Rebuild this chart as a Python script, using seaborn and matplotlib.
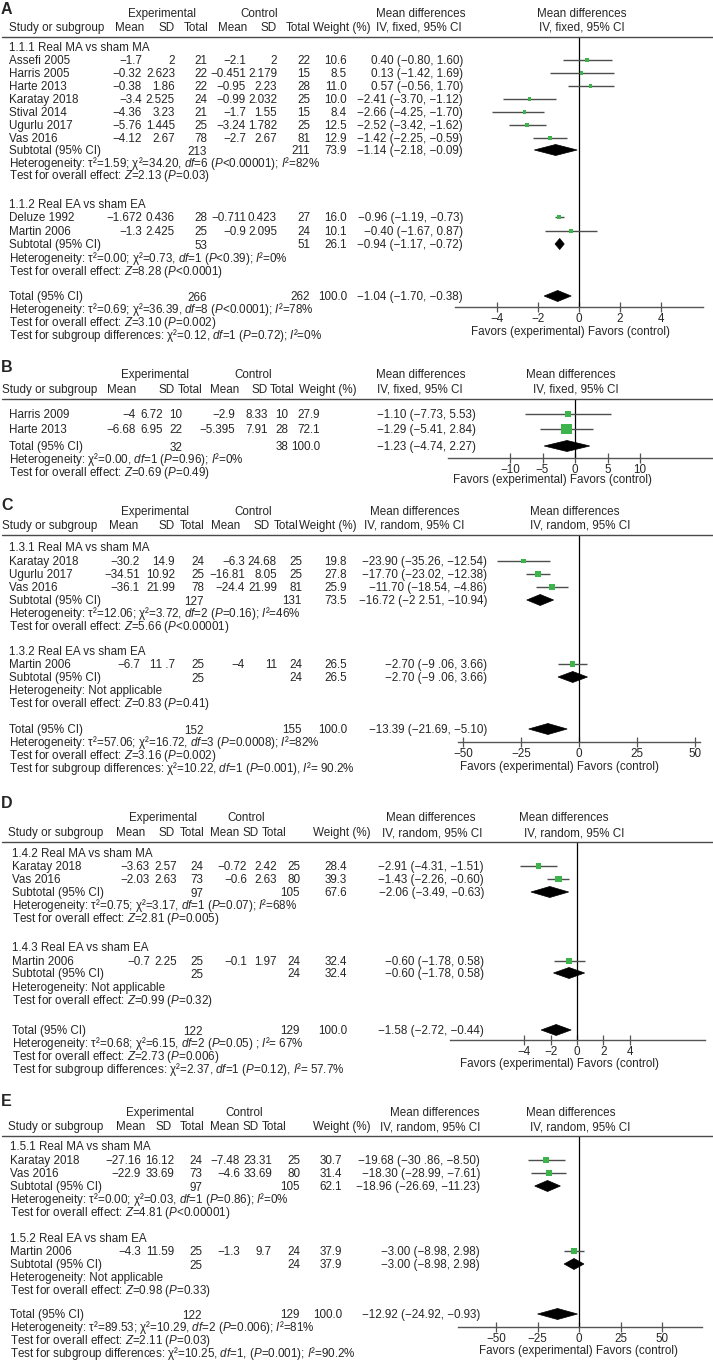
import matplotlib
matplotlib.use("Agg")
import matplotlib.pyplot as plt
import seaborn as sns
import pandas as pd
from matplotlib.patches import Polygon
from matplotlib.lines import Line2D

# ======================= DATA =======================
# ---------- Panel A ----------
A_study = ["Assefi 2005", "Harris 2005", "Harte 2013", "Karatay 2018", "Stival 2014",
           "Ugurlu 2017", "Vas 2016", "Deluze 1992", "Martin 2006"]
A_group = [0, 0, 0, 0, 0, 0, 0, 1, 1]
A_e_mean = [-1.7, -0.32, -0.38, -3.4, -4.36, -5.76, -4.12, -1.672, -1.3]
A_e_sd = [2, 2.623, 1.86, 2.525, 3.23, 1.445, 2.67, 0.436, 2.425]
A_e_n = [21, 22, 22, 24, 21, 25, 78, 28, 25]
A_c_mean = [-2.1, -0.451, -0.95, -0.99, -1.7, -3.24, -2.7, -0.711, -0.9]
A_c_sd = [2, 2.179, 2.23, 2.032, 1.55, 1.782, 2.67, 0.423, 2.095]
A_c_n = [22, 15, 28, 25, 15, 25, 81, 27, 24]
A_weight = [10.6, 8.5, 11.0, 10.0, 8.4, 12.5, 12.9, 16.0, 10.1]
A_md = [0.40, 0.13, 0.57, -2.41, -2.66, -2.52, -1.42, -0.96, -0.40]
A_lo = [-0.80, -1.42, -0.56, -3.70, -4.25, -3.42, -2.25, -1.19, -1.67]
A_hi = [1.60, 1.69, 1.70, -1.12, -1.70, -1.62, -0.59, -0.73, 0.87]
A_sub_name = ["1.1.1 Real MA vs sham MA", "1.1.2 Real EA vs sham EA"]
A_sub_e_n = [213, 53]
A_sub_c_n = [211, 51]
A_sub_w = [73.9, 26.1]
A_sub_md = [-1.14, -0.94]
A_sub_lo = [-2.18, -1.17]
A_sub_hi = [-0.09, -0.72]
A_sub_het = [r"Heterogeneity: τ²=1.59; χ²=34.20, $\mathit{df}$=6 ($\mathit{P}$<0.00001); $\mathit{I}$²=82%",
             r"Heterogeneity: τ²=0.00; χ²=0.73, $\mathit{df}$=1 ($\mathit{P}$<0.39); $\mathit{I}$²=0%"]
A_sub_test = [r"Test for overall effect: $\mathit{Z}$=2.13 ($\mathit{P}$=0.03)",
              r"Test for overall effect: $\mathit{Z}$=8.28 ($\mathit{P}$<0.0001)"]
A_tot_n = [266, 262]
A_tot_w = 100.0
A_tot_ci = [-1.04, -1.70, -0.38]
A_tot_text = [r"Heterogeneity: τ²=0.69; χ²=36.39, $\mathit{df}$=8 ($\mathit{P}$<0.0001); $\mathit{I}$²=78%",
              r"Test for overall effect: $\mathit{Z}$=3.10 ($\mathit{P}$=0.002)",
              r"Test for subgroup differences: χ²=0.12, $\mathit{df}$=1 ($\mathit{P}$=0.72); $\mathit{I}$²=0%"]
A_ticks = [-4, -2, 0, 2, 4]

# ---------- Panel B ----------
B_study = ["Harris 2009", "Harte 2013"]
B_group = [None, None]
B_e_mean = [-4, -6.68]
B_e_sd = [6.72, 6.95]
B_e_n = [10, 22]
B_c_mean = [-2.9, -5.395]
B_c_sd = [8.33, 7.91]
B_c_n = [10, 28]
B_weight = [27.9, 72.1]
B_md = [-1.10, -1.29]
B_lo = [-7.73, -5.41]
B_hi = [5.53, 2.84]
B_tot_n = [32, 38]
B_tot_w = 100.0
B_tot_ci = [-1.23, -4.74, 2.27]
B_tot_text = [r"Heterogeneity: χ²=0.00, $\mathit{df}$=1 ($\mathit{P}$=0.96); $\mathit{I}$²=0%",
              r"Test for overall effect: $\mathit{Z}$=0.69 ($\mathit{P}$=0.49)"]
B_ticks = [-10, -5, 0, 5, 10]

# ---------- Panel C ----------
C_study = ["Karatay 2018", "Ugurlu 2017", "Vas 2016", "Martin 2006"]
C_group = [0, 0, 0, 1]
C_e_mean = [-30.2, -34.51, -36.1, -6.7]
C_e_sd = [14.9, 10.92, 21.99, 11.7]
C_e_n = [24, 25, 78, 25]
C_c_mean = [-6.3, -16.81, -24.4, -4]
C_c_sd = [24.68, 8.05, 21.99, 11]
C_c_n = [25, 25, 81, 24]
C_weight = [19.8, 27.8, 25.9, 26.5]
C_md = [-23.90, -17.70, -11.70, -2.70]
C_lo = [-35.26, -23.02, -18.54, -9.06]
C_hi = [-12.54, -12.38, -4.86, 3.66]
C_sub_name = ["1.3.1 Real MA vs sham MA", "1.3.2 Real EA vs sham EA"]
C_sub_e_n = [127, 25]
C_sub_c_n = [131, 24]
C_sub_w = [73.5, 26.5]
C_sub_md = [-16.72, -2.70]
C_sub_lo = [-22.51, -9.06]
C_sub_hi = [-10.94, 3.66]
C_sub_het = [r"Heterogeneity: τ²=12.06; χ²=3.72, $\mathit{df}$=2 ($\mathit{P}$=0.16); $\mathit{I}$²=46%",
             "Heterogeneity: Not applicable"]
C_sub_test = [r"Test for overall effect: $\mathit{Z}$=5.66 ($\mathit{P}$<0.00001)",
              r"Test for overall effect: $\mathit{Z}$=0.83 ($\mathit{P}$=0.41)"]
C_tot_n = [152, 155]
C_tot_w = 100.0
C_tot_ci = [-13.39, -21.69, -5.10]
C_tot_text = [r"Heterogeneity: τ²=57.06; χ²=16.72, $\mathit{df}$=3 ($\mathit{P}$=0.0008); $\mathit{I}$²=82%",
              r"Test for overall effect: $\mathit{Z}$=3.16 ($\mathit{P}$=0.002)",
              r"Test for subgroup differences: χ²=10.22, $\mathit{df}$=1 ($\mathit{P}$=0.001), $\mathit{I}$²= 90.2%"]
C_ticks = [-50, -25, 0, 25, 50]

# ---------- Panel D ----------
D_study = ["Karatay 2018", "Vas 2016", "Martin 2006"]
D_group = [0, 0, 1]
D_e_mean = [-3.63, -2.03, -0.7]
D_e_sd = [2.57, 2.63, 2.25]
D_e_n = [24, 73, 25]
D_c_mean = [-0.72, -0.6, -0.1]
D_c_sd = [2.42, 2.63, 1.97]
D_c_n = [25, 80, 24]
D_weight = [28.4, 39.3, 32.4]
D_md = [-2.91, -1.43, -0.60]
D_lo = [-4.31, -2.26, -1.78]
D_hi = [-1.51, -0.60, 0.58]
D_sub_name = ["1.4.2 Real MA vs sham MA", "1.4.3 Real EA vs sham EA"]
D_sub_e_n = [97, 25]
D_sub_c_n = [105, 24]
D_sub_w = [67.6, 32.4]
D_sub_md = [-2.06, -0.60]
D_sub_lo = [-3.49, -1.78]
D_sub_hi = [-0.63, 0.58]
D_sub_het = [r"Heterogeneity: τ²=0.75; χ²=3.17, $\mathit{df}$=1 ($\mathit{P}$=0.07); $\mathit{I}$²=68%",
             "Heterogeneity: Not applicable"]
D_sub_test = [r"Test for overall effect: $\mathit{Z}$=2.81 ($\mathit{P}$=0.005)",
              r"Test for overall effect: $\mathit{Z}$=0.99 ($\mathit{P}$=0.32)"]
D_tot_n = [122, 129]
D_tot_w = 100.0
D_tot_ci = [-1.58, -2.72, -0.44]
D_tot_text = [r"Heterogeneity: τ²=0.68; χ²=6.15, $\mathit{df}$=2 ($\mathit{P}$=0.05) ; $\mathit{I}$²= 67%",
              r"Test for overall effect: $\mathit{Z}$=2.73 ($\mathit{P}$=0.006)",
              r"Test for subgroup differences: χ²=2.37, $\mathit{df}$=1 ($\mathit{P}$=0.12), $\mathit{I}$²= 57.7%"]
D_ticks = [-4, -2, 0, 2, 4]

# ---------- Panel E ----------
E_study = ["Karatay 2018", "Vas 2016", "Martin 2006"]
E_group = [0, 0, 1]
E_e_mean = [-27.16, -22.9, -4.3]
E_e_sd = [16.12, 33.69, 11.59]
E_e_n = [24, 73, 25]
E_c_mean = [-7.48, -4.6, -1.3]
E_c_sd = [23.31, 33.69, 9.7]
E_c_n = [25, 80, 24]
E_weight = [30.7, 31.4, 37.9]
E_md = [-19.68, -18.30, -3.00]
E_lo = [-30.86, -28.99, -8.98]
E_hi = [-8.50, -7.61, 2.98]
E_sub_name = ["1.5.1 Real MA vs sham MA", "1.5.2 Real EA vs sham EA"]
E_sub_e_n = [97, 25]
E_sub_c_n = [105, 24]
E_sub_w = [62.1, 37.9]
E_sub_md = [-18.96, -3.00]
E_sub_lo = [-26.69, -8.98]
E_sub_hi = [-11.23, 2.98]
E_sub_het = [r"Heterogeneity: τ²=0.00; χ²=0.03, $\mathit{df}$=1 ($\mathit{P}$=0.86); $\mathit{I}$²=0%",
             "Heterogeneity: Not applicable"]
E_sub_test = [r"Test for overall effect: $\mathit{Z}$=4.81 ($\mathit{P}$<0.00001)",
              r"Test for overall effect: $\mathit{Z}$=0.98 ($\mathit{P}$=0.33)"]
E_tot_n = [122, 129]
E_tot_w = 100.0
E_tot_ci = [-12.92, -24.92, -0.93]
E_tot_text = [r"Heterogeneity: τ²=89.53; χ²=10.29, $\mathit{df}$=2 ($\mathit{P}$=0.006); $\mathit{I}$²=81%",
              r"Test for overall effect: $\mathit{Z}$=2.11 ($\mathit{P}$=0.03)",
              r"Test for subgroup differences: χ²=10.25, $\mathit{df}$=1, ($\mathit{P}$=0.001); $\mathit{I}$²=90.2%"]
E_ticks = [-50, -25, 0, 25, 50]

# typographic quirks of the original labels
CI_TYPO = {"\u221222.51": "\u22122 2.51", "\u22129.06": "\u22129 .06", "\u221230.86": "\u221230 .86"}
CELL_TYPO = {"11.7": "11 .7"}

# ======================= STYLE =======================
sns.set_style("white")
plt.rcParams["font.family"] = ["Liberation Sans", "DejaVu Sans"]
plt.rcParams["mathtext.fontset"] = "custom"
plt.rcParams["mathtext.rm"] = "Liberation Sans"
plt.rcParams["mathtext.it"] = "Liberation Sans:italic"
plt.rcParams["mathtext.bf"] = "Liberation Sans:bold"
plt.rcParams["axes.unicode_minus"] = True

W, H = 713, 1361
FS = 8.4
GREEN = "#3cb44b"
CI_COL = "#4d4d4d"
fig = plt.figure(figsize=(W / 100, H / 100), dpi=100)


def T(x, y, s, ha="left", size=FS, off=4.0, **kw):
    fig.text(x / W, 1 - (y + off) / H, s, ha=ha, va="baseline", fontsize=size, **kw)


def mm(s):
    return s.replace("-", "\u2212")


def fmt(v):
    s = mm(f"{v:g}")
    return CELL_TYPO.get(s, s)


def ci_label(m, lo, hi):
    s = mm(f"{m:.2f} ({lo:.2f}, {hi:.2f})")
    for k, v in CI_TYPO.items():
        s = s.replace(k, v)
    return s


def draw_panel(letter, L, D):
    T(1, L["label_y"], letter, size=11.5, weight="bold", off=5.5)
    for s, x, ha in L["h1"]:
        T(x, L["h1_y"], s, ha=ha)
    for s, x, ha in L["h2"]:
        T(x, L["h2_y"], s, ha=ha)
    fig.add_artist(Line2D([2 / W, 1.0], [1 - L["line_y"] / H] * 2, color="#4a4a4a", lw=1.0))

    ys = iter(L["ys"])
    cols = L["cols"]
    nx = L["name_x"]
    pts = []
    dias = []

    def ci_text(y, m, lo, hi):
        T(L["ci_x"], y, ci_label(m, lo, hi), ha=L["ci_ha"])

    def study_row(i):
        y = next(ys)
        T(nx, y, D["study"][i])
        vals = [fmt(D["e_mean"][i]), fmt(D["e_sd"][i]), str(D["e_n"][i]),
                fmt(D["c_mean"][i]), fmt(D["c_sd"][i]), str(D["c_n"][i]),
                f"{D['weight'][i]:.1f}"]
        for v, x in zip(vals, cols):
            T(x, y, v, ha="right")
        ci_text(y, D["md"][i], D["lo"][i], D["hi"][i])
        pts.append(dict(md=D["md"][i], lo=D["lo"][i], hi=D["hi"][i], y=y, w=D["weight"][i]))

    def summary_row(label, ne, nc, w, m, lo, hi):
        y = next(ys)
        T(nx, y, label)
        T(cols[2], y + 1, str(ne), ha="right")
        T(cols[5], y, str(nc), ha="right")
        T(cols[6], y, f"{w:.1f}", ha="right")
        ci_text(y, m, lo, hi)
        dias.append((m, lo, hi, y))

    if D.get("sub_name"):
        for g, name in enumerate(D["sub_name"]):
            T(nx, next(ys), name)
            for i, gg in enumerate(D["group"]):
                if gg == g:
                    study_row(i)
            summary_row("Subtotal (95% CI)", D["sub_e_n"][g], D["sub_c_n"][g], D["sub_w"][g],
                        D["sub_md"][g], D["sub_lo"][g], D["sub_hi"][g])
            T(nx, next(ys), D["sub_het"][g])
            T(nx, next(ys), D["sub_test"][g])
    else:
        for i in range(len(D["study"])):
            study_row(i)
    summary_row("Total (95% CI)", D["tot_n"][0], D["tot_n"][1], D["tot_w"], *D["tot_ci"])
    for s in D["tot_text"]:
        T(nx, next(ys), s)

    # ---- forest plot axes (y in pixel rows) ----
    x0, x1 = L["ax_x"]
    ax = fig.add_axes([x0 / W, 1 - L["axis_y"] / H, (x1 - x0) / W, (L["axis_y"] - L["line_y"]) / H])
    ax.set_facecolor("none")
    ax.set_xlim((x0 - L["zero"]) / L["ppu"], (x1 - L["zero"]) / L["ppu"])
    ax.set_ylim(L["axis_y"], L["line_y"])
    df = pd.DataFrame(pts)
    ax.hlines(df["y"], df["lo"], df["hi"], color=CI_COL, lw=1.0, zorder=2)
    sizes = [((2.2 + 0.12 * w) * 0.72) ** 2 for w in df["w"]]
    sns.scatterplot(data=df, x="md", y="y", marker="s", color=GREEN, s=sizes,
                    linewidth=0, ax=ax, zorder=3, legend=False)
    for m, lo, hi, y in dias:
        h = 5.5
        ax.add_patch(Polygon([(lo, y), (m, y - h), (hi, y), (m, y + h)], closed=True,
                             facecolor="black", edgecolor="black", lw=0.5, zorder=4))
    ax.axvline(0, color="black", lw=0.9, zorder=1)
    for sp in ["top", "left", "right"]:
        ax.spines[sp].set_visible(False)
    ax.spines["bottom"].set_color("#555555")
    ax.spines["bottom"].set_linewidth(1.0)
    ax.set_xticks(L["ticks"])
    ax.set_xticklabels([mm(str(t)) for t in L["ticks"]])
    ax.set_yticks([])
    ax.tick_params(axis="x", direction="inout", length=7, width=0.9, color="#555555",
                   labelsize=FS, pad=0.5, bottom=True)
    ax.set_xlabel("")
    ax.set_ylabel("")
    T(L["fav_x"], L["fav_y"], "Favors (experimental) Favors (control)", ha="center")


def pack(p):
    g = globals()
    keys = ["study", "group", "e_mean", "e_sd", "e_n", "c_mean", "c_sd", "c_n", "weight", "md", "lo", "hi",
            "sub_name", "sub_e_n", "sub_c_n", "sub_w", "sub_md", "sub_lo", "sub_hi", "sub_het", "sub_test",
            "tot_n", "tot_w", "tot_ci", "tot_text", "ticks"]
    return {k: g[f"{p}_{k}"] for k in keys if f"{p}_{k}" in g}


LAYOUT = {
    "A": dict(label_y=8, h1_y=13, h2_y=27, line_y=37,
              ys=[47, 60, 73, 86, 99, 112, 125, 138, 150, 163, 175, 204, 217, 231, 244, 258, 271,
                  296, 309, 322, 335],
              h1=[("Experimental", 162, "center"), ("Control", 259, "center"),
                  ("Mean differences", 466, "right"), ("Mean differences", 582, "center")],
              h2=[("Study or subgroup", 9, "left"), ("Mean", 144, "right"), ("SD", 175, "right"),
                  ("Total", 208, "right"), ("Mean", 247, "right"), ("SD", 277, "right"),
                  ("Total", 311, "right"), ("Weight (%)", 313, "left"),
                  ("IV, fixed, 95% CI", 462, "right"), ("IV, fixed, 95% CI", 582, "center")],
              cols=[142, 175, 207, 246, 277, 310, 347], ci_x=463, ci_ha="right", name_x=9,
              ax_x=(455, 703), zero=579, ppu=20.5, axis_y=307, fav_x=570, fav_y=331),
    "B": dict(label_y=367, h1_y=374, h2_y=389, line_y=399,
              ys=[414, 429, 446, 459, 472],
              h1=[("Experimental", 155, "center"), ("Control", 253, "center"),
                  ("Mean differences", 421, "center"), ("Mean differences", 571, "center")],
              h2=[("Study or subgroup", 2, "left"), ("Mean", 136, "right"), ("SD", 175, "right"),
                  ("Total", 202, "right"), ("Mean", 239, "right"), ("SD", 268, "right"),
                  ("Total", 295, "right"), ("Weight (%)", 299, "left"),
                  ("IV, fixed, 95% CI", 377, "left"), ("IV, fixed, 95% CI", 576, "center")],
              cols=[136, 163, 182, 235, 268, 288, 320], ci_x=377, ci_ha="left", name_x=9,
              ax_x=(448, 713), zero=575, ppu=6.5, axis_y=458, fav_x=552, fav_y=479),
    "C": dict(label_y=505, h1_y=511, h2_y=525, line_y=535,
              ys=[547, 561, 574, 587, 600, 613, 626, 651, 664, 677, 690, 703, 729, 742, 755, 768],
              h1=[("Experimental", 155, "center"), ("Control", 253, "center"),
                  ("Mean differences", 415, "center"), ("Mean differences", 575, "center")],
              h2=[("Study or subgroup", 2, "left"), ("Mean", 138, "right"), ("SD", 175, "right"),
                  ("Total", 204, "right"), ("Mean", 240, "right"), ("SD", 270, "right"),
                  ("Total", 298, "right"), ("Weight (%)", 299, "left"),
                  ("IV, random, 95% CI", 364, "left"), ("IV, random, 95% CI", 580, "center")],
              cols=[140, 175, 204, 245, 277, 302, 347], ci_x=487, ci_ha="right", name_x=9,
              ax_x=(458, 700), zero=579, ppu=2.32, axis_y=742, fav_x=559, fav_y=766),
    "D": dict(label_y=803, h1_y=817, h2_y=832, line_y=842,
              ys=[853, 866, 879, 892, 905, 918, 947, 961, 973, 987, 1000, 1030, 1043, 1056, 1069],
              h1=[("Experimental", 163, "center"), ("Control", 246, "center"),
                  ("Mean differences", 476, "right"), ("Mean differences", 564, "center")],
              h2=[("Study or subgroup", 8, "left"), ("Mean", 145, "right"), ("SD", 175, "right"),
                  ("Total", 204, "right"), ("Mean", 210, "left"), ("SD", 259, "right"),
                  ("Total", 287, "right"), ("Weight (%)", 371, "right"),
                  ("IV, random, 95% CI", 482, "right"), ("IV, random, 95% CI", 574, "center")],
              cols=[150, 177, 203, 247, 277, 300, 347], ci_x=484, ci_ha="right", name_x=12,
              ax_x=(450, 705), zero=577, ppu=13.2, axis_y=1040, fav_x=559, fav_y=1063),
    "E": dict(label_y=1100, h1_y=1112, h2_y=1126, line_y=1136,
              ys=[1146, 1160, 1173, 1186, 1199, 1212, 1238, 1251, 1264, 1277, 1290, 1314, 1327, 1340, 1353],
              h1=[("Experimental", 160, "center"), ("Control", 244, "center"),
                  ("Mean differences", 480, "right"), ("Mean differences", 571, "center")],
              h2=[("Study or subgroup", 8, "left"), ("Mean", 145, "right"), ("SD", 172, "right"),
                  ("Total", 204, "right"), ("Mean", 210, "left"), ("SD", 259, "right"),
                  ("Total", 287, "right"), ("Weight (%)", 371, "right"),
                  ("IV, random, 95% CI", 480, "right"), ("IV, random, 95% CI", 580, "center")],
              cols=[141, 174, 202, 240, 272, 300, 342], ci_x=480, ci_ha="right", name_x=10,
              ax_x=(458, 702), zero=579, ppu=1.66, axis_y=1327, fav_x=578, fav_y=1350),
}

for p in ["A", "B", "C", "D", "E"]:
    D = pack(p)
    L = dict(LAYOUT[p])
    L["ticks"] = D["ticks"]
    draw_panel(p, L, D)

fig.savefig("out.png", dpi=100)
